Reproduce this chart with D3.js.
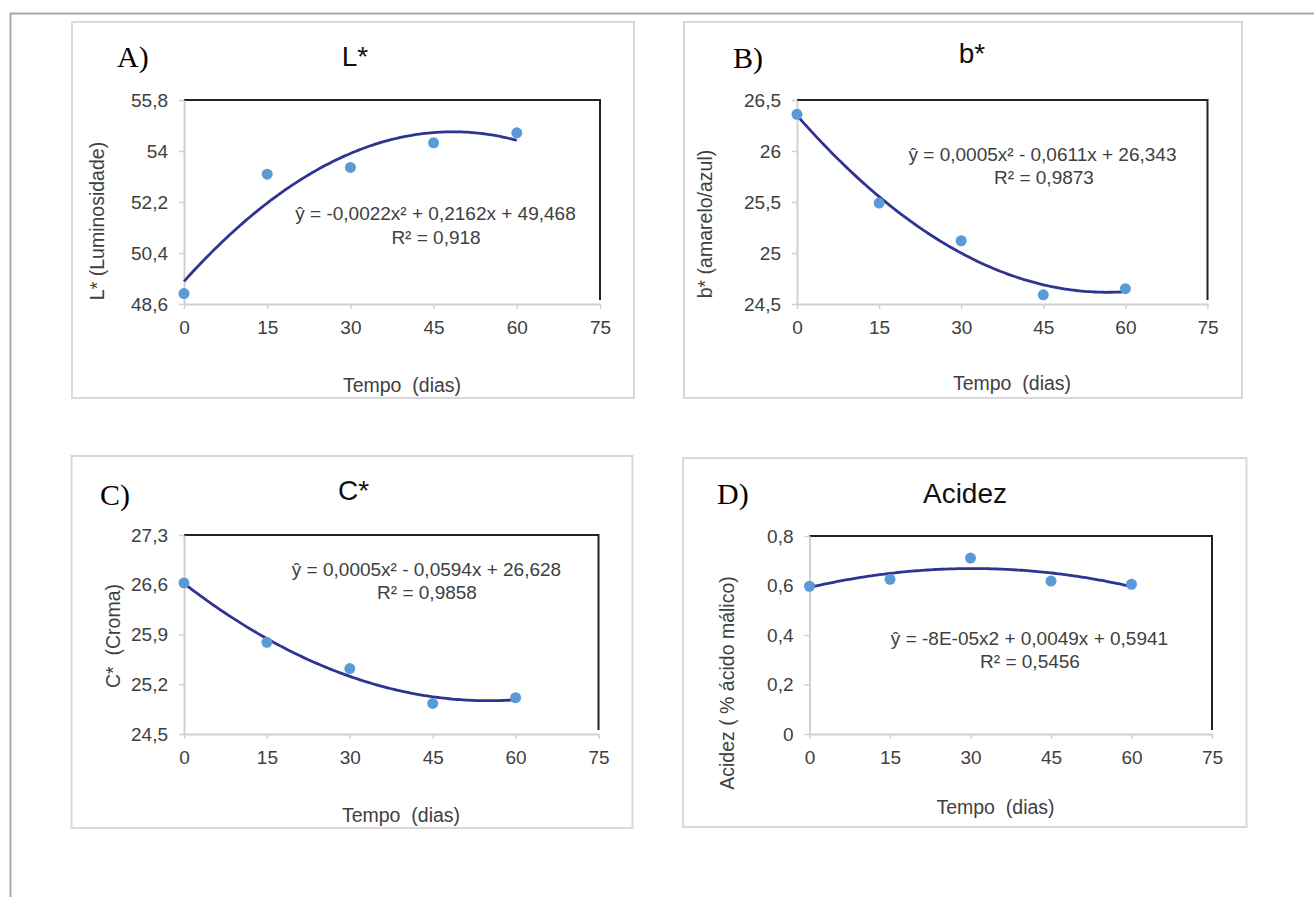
<!DOCTYPE html>
<html>
<head>
<meta charset="utf-8">
<script src="https://cdn.jsdelivr.net/npm/d3@7"></script>
<style>
  body { margin: 0; background: #fff; }
  svg { display: block; }
  text { font-family: "Liberation Sans", Arial, sans-serif; }
</style>
</head>
<body>
<svg id="chart" width="1314" height="897"></svg>
<script>
// dias de armazenamento (eixo x de todos os graficos)
const dias = [0, 15, 30, 45, 60]
const ticksX = [0, 15, 30, 45, 60, 75]

// valores
const valoresL = [48.97, 53.18, 53.42, 54.29, 54.64]
const valoresB = [26.36, 25.49, 25.12, 24.59, 24.65]
const valoresC = [26.625, 25.79, 25.42, 24.93, 25.01]
const valoresD = [0.597, 0.625, 0.711, 0.618, 0.605]

// ticks do eixo y
const ticksL = [48.6, 50.4, 52.2, 54, 55.8]
const ticksB = [24.5, 25, 25.5, 26, 26.5]
const ticksC = [24.5, 25.2, 25.9, 26.6, 27.3]
const ticksD = [0, 0.2, 0.4, 0.6, 0.8]

// equacoes mostradas nos graficos
const equacoes = [
  'ŷ = -0,0022x² + 0,2162x + 49,468',
  'ŷ = 0,0005x² - 0,0611x + 26,343',
  'ŷ = 0,0005x² - 0,0594x + 26,628',
  'ŷ = -8E-05x2 + 0,0049x + 0,5941'
]
const r2 = ['R² = 0,918', 'R² = 0,9873', 'R² = 0,9858', 'R² = 0,5456']

const corPonto = '#5b9bd5'
const corLinha = '#2f3391'
const corEixo = '#d0d0d0'
const corTexto = '#404040'

const pt = d3.formatLocale({ decimal: ',', thousands: '.', grouping: [3], currency: ['R$', ''] })
const fmt = pt.format('~r')

const svg = d3.select('#chart')

// moldura externa
svg.append('line').attr('x1', 10).attr('x2', 1314).attr('y1', 13.5).attr('y2', 13.5)
  .attr('stroke', '#a8a8a8').attr('stroke-width', 2)
svg.append('line').attr('x1', 10.5).attr('x2', 10.5).attr('y1', 13).attr('y2', 897)
  .attr('stroke', '#a8a8a8').attr('stroke-width', 2)

// ajuste polinomial de grau 2 (minimos quadrados), como a linha de tendencia do Excel
function ajuste (xs, ys) {
  const s = k => d3.sum(xs, x => Math.pow(x, k))
  const t = k => d3.sum(xs, (x, i) => Math.pow(x, k) * ys[i])
  const m = [
    [s(4), s(3), s(2), t(2)],
    [s(3), s(2), s(1), t(1)],
    [s(2), s(1), xs.length, t(0)]
  ]
  // eliminacao de Gauss
  for (let i = 0; i < 3; i++) {
    for (let j = i + 1; j < 3; j++) {
      const f = m[j][i] / m[i][i]
      for (let k = i; k < 4; k++) m[j][k] -= f * m[i][k]
    }
  }
  const r = [0, 0, 0]
  for (let i = 2; i >= 0; i--) {
    let v = m[i][3]
    for (let k = i + 1; k < 3; k++) v -= m[i][k] * r[k]
    r[i] = v / m[i][i]
  }
  return x => r[0] * x * x + r[1] * x + r[2]
}

function desenhaPainel (p) {
  const g = svg.append('g')

  g.append('rect')
    .attr('x', p.box[0]).attr('y', p.box[1])
    .attr('width', p.box[2] - p.box[0]).attr('height', p.box[3] - p.box[1])
    .attr('fill', '#fff').attr('stroke', '#d9d9d9').attr('stroke-width', 2)

  const x = d3.scaleLinear().domain([0, 75]).range([p.plot[0], p.plot[2]])
  const y = d3.scaleLinear().domain([p.ticks[0], p.ticks[p.ticks.length - 1]]).range([p.plot[3], p.plot[1]])

  // borda preta em cima e a direita
  g.append('path')
    .attr('d', `M${p.plot[0]},${p.plot[1]}H${p.plot[2]}V${p.plot[3] - 4}`)
    .attr('fill', 'none').attr('stroke', '#222').attr('stroke-width', 2)

  const eixoX = g.append('g')
    .attr('transform', `translate(0,${p.plot[3]})`)
    .call(d3.axisBottom(x).tickValues(ticksX).tickFormat(fmt).tickSize(5).tickSizeOuter(0).tickPadding(12))
  const eixoY = g.append('g')
    .attr('transform', `translate(${p.plot[0]},0)`)
    .call(d3.axisLeft(y).tickValues(p.ticks).tickFormat(fmt).tickSize(5).tickSizeOuter(0).tickPadding(11))

  for (const e of [eixoX, eixoY]) {
    e.select('.domain').attr('stroke', corEixo).attr('stroke-width', 2)
    e.selectAll('.tick line').attr('stroke', corEixo).attr('stroke-width', 1.5)
    e.selectAll('.tick text').attr('fill', corTexto)
      .style('font-family', '"Liberation Sans", Arial, sans-serif').style('font-size', '19px')
  }

  // linha de tendencia
  const f = ajuste(p.dias, p.valores)
  const xs = d3.range(0, 60.01, 0.5)
  g.append('path')
    .datum(xs)
    .attr('d', d3.line().x(d => x(d)).y(d => y(f(d))))
    .attr('fill', 'none').attr('stroke', corLinha).attr('stroke-width', 2.8)

  g.selectAll('circle.ponto')
    .data(p.dias)
    .enter()
    .append('circle')
    .attr('class', 'ponto')
    .attr('cx', d => x(d))
    .attr('cy', (d, i) => y(p.valores[i]))
    .attr('r', 5.5)
    .attr('fill', corPonto)

  // textos
  g.append('text').text(p.letra)
    .attr('x', p.letraPos[0]).attr('y', p.letraPos[1])
    .style('font-family', '"Liberation Serif", "Times New Roman", serif')
    .style('font-size', '30px').attr('fill', '#000')

  g.append('text').text(p.titulo)
    .attr('x', p.tituloPos[0]).attr('y', p.tituloPos[1])
    .attr('text-anchor', 'middle').style('font-size', '28px').attr('fill', '#111')

  g.append('text').text(p.yLabel)
    .attr('transform', `translate(${p.yLabelPos[0]},${p.yLabelPos[1]}) rotate(-90)`)
    .attr('text-anchor', 'middle').attr('dy', '0.35em')
    .style('font-size', '19.5px').style('white-space', 'pre').attr('fill', corTexto)

  g.append('text').text('Tempo  (dias)')
    .attr('x', p.xLabelPos[0]).attr('y', p.xLabelPos[1])
    .attr('text-anchor', 'middle').attr('dy', '0.35em')
    .style('font-size', '19.5px').style('white-space', 'pre').attr('fill', corTexto)

  g.append('text').text(p.eq)
    .attr('x', p.eqPos[0]).attr('y', p.eqPos[1])
    .attr('text-anchor', 'middle').attr('dy', '0.35em')
    .style('font-size', '19px').attr('fill', corTexto)
  g.append('text').text(p.r2)
    .attr('x', p.r2Pos[0]).attr('y', p.r2Pos[1])
    .attr('text-anchor', 'middle').attr('dy', '0.35em')
    .style('font-size', '19px').attr('fill', corTexto)
}

const paineis = [
  {
    box: [72, 22, 634, 398], plot: [184, 100, 600, 304],
    letra: 'A)', letraPos: [117, 67], titulo: 'L*', tituloPos: [355, 66],
    yLabel: 'L* (Luminosidade)', yLabelPos: [97, 221], xLabelPos: [402, 385],
    eq: equacoes[0], eqPos: [435.5, 213], r2: r2[0], r2Pos: [436, 237],
    dias: dias, valores: valoresL, ticks: ticksL
  },
  {
    box: [684, 22, 1242, 398], plot: [797, 100, 1207.5, 304],
    letra: 'B)', letraPos: [733, 68], titulo: 'b*', tituloPos: [972, 63],
    yLabel: 'b* (amarelo/azul)', yLabelPos: [705, 224], xLabelPos: [1012, 383],
    eq: equacoes[1], eqPos: [1042.5, 154], r2: r2[1], r2Pos: [1044, 177],
    dias: dias, valores: valoresB, ticks: ticksB
  },
  {
    box: [71.5, 456, 632.5, 828], plot: [184, 535, 598.5, 734],
    letra: 'C)', letraPos: [100, 505], titulo: 'C*', tituloPos: [353.5, 500],
    yLabel: 'C*  (Croma)', yLabelPos: [113, 636], xLabelPos: [401, 815],
    eq: equacoes[2], eqPos: [426.5, 569], r2: r2[2], r2Pos: [427, 592],
    dias: dias, valores: valoresC, ticks: ticksC
  },
  {
    box: [683, 458, 1246.5, 827], plot: [809.5, 536, 1212, 734],
    letra: 'D)', letraPos: [717, 504], titulo: 'Acidez', tituloPos: [965, 502.5],
    yLabel: 'Acidez ( % ácido málico)', yLabelPos: [727, 683], xLabelPos: [995.5, 807],
    eq: equacoes[3], eqPos: [1029.5, 638], r2: r2[3], r2Pos: [1030, 661],
    dias: dias, valores: valoresD, ticks: ticksD
  }
]

paineis.forEach(desenhaPainel)
</script>
</body>
</html>
